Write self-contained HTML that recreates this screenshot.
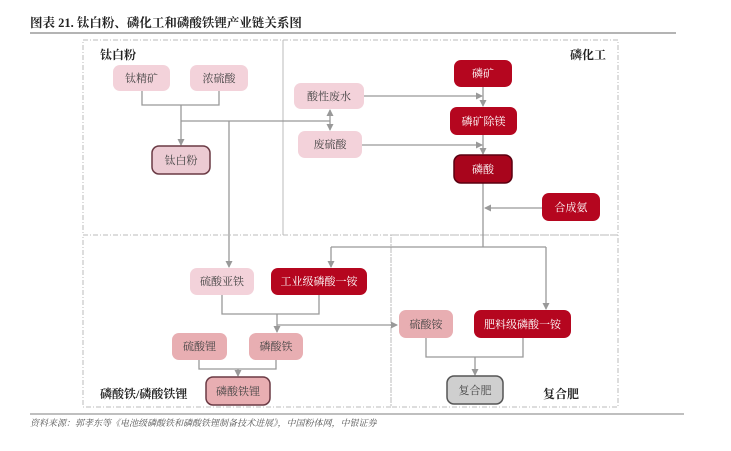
<!DOCTYPE html>
<html><head><meta charset="utf-8"><style>
html,body{margin:0;padding:0;background:#fff;}
svg{display:block;}
text{font-family:"Liberation Serif","Noto Serif CJK SC","Noto Sans CJK SC",serif;}
</style></head><body>
<svg width="731" height="451" viewBox="0 0 731 451" xmlns="http://www.w3.org/2000/svg">
<defs>
<marker id="a" markerWidth="8" markerHeight="8" refX="6" refY="4" orient="auto" markerUnits="userSpaceOnUse">
<path d="M0,0.5 L7,4 L0,7.5 z" fill="#999"/></marker>
</defs>
<text x="30" y="27" font-size="12.5" font-weight="bold" fill="#222">图表 21. 钛白粉、磷化工和磷酸铁锂产业链关系图</text>
<line x1="30" y1="33" x2="676" y2="33" stroke="#888" stroke-width="1.2"/>
<line x1="30" y1="414" x2="684" y2="414" stroke="#999" stroke-width="1.2"/>
<text x="30" y="426" font-size="9" font-style="italic" fill="#555">资料来源：郭孝东等《电池级磷酸铁和磷酸铁锂制备技术进展》，中国粉体网，中银证券</text>

<g fill="none" stroke="#bbb" stroke-width="1" stroke-dasharray="5,2,1,2">
<rect x="83" y="40" width="200" height="195"/>
<rect x="283" y="40" width="335" height="195"/>
<rect x="83" y="235" width="308" height="172"/>
<rect x="391" y="235" width="227" height="172"/>
</g>

<g font-size="12" font-weight="bold" fill="#222">
<text x="100" y="59">钛白粉</text>
<text x="570" y="59">磷化工</text>
<text x="100" y="398">磷酸铁/磷酸铁锂</text>
<text x="543" y="398">复合肥</text>
</g>

<g stroke="#999" stroke-width="1.3" fill="none">
<polyline points="142,91 142,105 219,105 219,91"/>
<line x1="181" y1="105" x2="181" y2="145" marker-end="url(#a)"/>
<line x1="181" y1="121" x2="330" y2="121"/>
<line x1="330" y1="121" x2="330" y2="110" marker-end="url(#a)"/>
<line x1="330" y1="121" x2="330" y2="130" marker-end="url(#a)"/>
<line x1="229" y1="121" x2="229" y2="267" marker-end="url(#a)"/>
<line x1="364" y1="96" x2="482" y2="96" marker-end="url(#a)"/>
<line x1="362" y1="145" x2="482" y2="145" marker-end="url(#a)"/>
<line x1="483" y1="87" x2="483" y2="106" marker-end="url(#a)"/>
<line x1="483" y1="135" x2="483" y2="154" marker-end="url(#a)"/>
<line x1="483" y1="183" x2="483" y2="247"/>
<line x1="542" y1="208" x2="485" y2="208" marker-end="url(#a)"/>
<polyline points="331,247 546,247"/>
<line x1="331" y1="247" x2="331" y2="267" marker-end="url(#a)"/>
<line x1="546" y1="247" x2="546" y2="309" marker-end="url(#a)"/>
<polyline points="222,295 222,314 319,314 319,295"/>
<line x1="277" y1="314" x2="277" y2="332" marker-end="url(#a)"/>
<line x1="277" y1="325" x2="397" y2="325" marker-end="url(#a)"/>
<polyline points="199,360 199,369 276,369 276,360"/>
<line x1="238" y1="369" x2="238" y2="376" marker-end="url(#a)"/>
<polyline points="426,338 426,357 523,357 523,338"/>
<line x1="475" y1="357" x2="475" y2="375" marker-end="url(#a)"/>
</g>

<g font-size="11" text-anchor="middle">
<rect x="113" y="65" width="57" height="26" rx="7" fill="#f3d2da"/><text x="141.5" y="82" fill="#444">钛精矿</text>
<rect x="190" y="65" width="58" height="26" rx="7" fill="#f3d2da"/><text x="219" y="82" fill="#444">浓硫酸</text>
<rect x="152" y="146" width="58" height="28" rx="7" fill="#eccbd3" stroke="#6a3a44" stroke-width="1.5"/><text x="181" y="164" fill="#444">钛白粉</text>
<rect x="294" y="83" width="70" height="26" rx="7" fill="#f3d2da"/><text x="329" y="100" fill="#444">酸性废水</text>
<rect x="298" y="131" width="64" height="27" rx="7" fill="#f3d2da"/><text x="330" y="148" fill="#444">废硫酸</text>

<rect x="454" y="60" width="58" height="27" rx="7" fill="#b5061f"/><text x="483" y="77" fill="#fff">磷矿</text>
<rect x="450" y="107" width="67" height="28" rx="7" fill="#b5061f"/><text x="483.5" y="125" fill="#fff">磷矿除镁</text>
<rect x="454" y="155" width="58" height="28" rx="7" fill="#a8051c" stroke="#5a0010" stroke-width="1.5"/><text x="483" y="173" fill="#fff">磷酸</text>
<rect x="542" y="193" width="58" height="28" rx="7" fill="#b5061f"/><text x="571" y="211" fill="#fff">合成氨</text>

<rect x="190" y="268" width="64" height="27" rx="7" fill="#f3d2da"/><text x="222" y="285" fill="#444">硫酸亚铁</text>
<rect x="271" y="268" width="96" height="27" rx="7" fill="#b5061f"/><text x="319" y="285" fill="#fff">工业级磷酸一铵</text>
<rect x="172" y="333" width="55" height="27" rx="7" fill="#e8aeb2"/><text x="199.5" y="350" fill="#444">硫酸锂</text>
<rect x="249" y="333" width="54" height="27" rx="7" fill="#e8aeb2"/><text x="276" y="350" fill="#444">磷酸铁</text>
<rect x="206" y="377" width="64" height="28" rx="7" fill="#e8aeb2" stroke="#6a3a44" stroke-width="1.5"/><text x="238" y="395" fill="#444">磷酸铁锂</text>
<rect x="399" y="310" width="54" height="28" rx="7" fill="#e8aeb2"/><text x="426" y="328" fill="#444">硫酸铵</text>
<rect x="474" y="310" width="97" height="28" rx="7" fill="#b5061f"/><text x="522.5" y="328" fill="#fff">肥料级磷酸一铵</text>
<rect x="447" y="376" width="56" height="28" rx="7" fill="#cfcfcf" stroke="#555" stroke-width="1.5"/><text x="475" y="394" fill="#444">复合肥</text>
</g>
</svg>
</body></html>
